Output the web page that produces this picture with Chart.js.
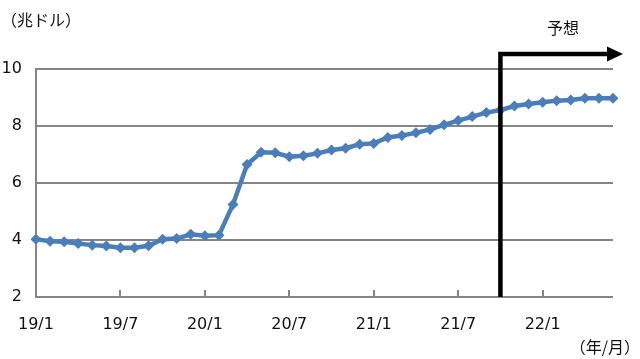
<!DOCTYPE html>
<html>
<head>
<meta charset="utf-8">
<script src="https://cdn.jsdelivr.net/npm/chart.js@4/dist/chart.umd.min.js"></script>
<style>
  html, body { margin: 0; padding: 0; background: #fff; }
  #wrap { width: 640px; height: 359px; position: relative; }
</style>
</head>
<body>
<div id="wrap"><canvas id="c" width="640" height="359"></canvas></div>
<script>
const months = [
  '19/1','19/2','19/3','19/4','19/5','19/6','19/7','19/8','19/9','19/10','19/11','19/12',
  '20/1','20/2','20/3','20/4','20/5','20/6','20/7','20/8','20/9','20/10','20/11','20/12',
  '21/1','21/2','21/3','21/4','21/5','21/6','21/7','21/8','21/9','21/10','21/11','21/12',
  '22/1','22/2','22/3','22/4','22/5','22/6'
];
const values = [
  4.03, 3.96, 3.94, 3.88, 3.82, 3.79, 3.73, 3.73, 3.80, 4.03, 4.05, 4.20,
  4.15, 4.17, 5.25, 6.65, 7.08, 7.06, 6.92, 6.96, 7.04, 7.16, 7.22, 7.36,
  7.39, 7.60, 7.67, 7.76, 7.88, 8.04, 8.19, 8.33, 8.47, 8.56, 8.70, 8.77,
  8.83, 8.89, 8.91, 8.97, 8.97, 8.97
];
const shownTickLabels = ['19/1','19/7','20/1','20/7','21/1','21/7','22/1'];
const forecastStart = '21/10';
const unitLabel = '（兆ドル）';
const xUnitLabel = '（年/月）';
const forecastLabel = '予想';

const GRID = '#858585';
const numFont = 'DejaVu Sans';
const jpFont = '"Noto Sans CJK JP"';

const overlay = {
  id: 'overlay',
  afterDraw(chart) {
    const ctx = chart.ctx;
    const xs = chart.scales.x, ys = chart.scales.y;
    const bottom = ys.getPixelForValue(ys.min);
    ctx.save();
    // upward tick marks on x axis
    ctx.strokeStyle = GRID;
    ctx.lineWidth = 2;
    months.forEach((m, i) => {
      if (shownTickLabels.includes(m) && i > 0) {
        const x = Math.round(xs.getPixelForValue(i));
        ctx.beginPath();
        ctx.moveTo(x, bottom);
        ctx.lineTo(x, bottom - 7);
        ctx.stroke();
      }
    });
    // forecast arrow
    const fx = xs.getPixelForValue(months.indexOf(forecastStart));
    const topY = ys.getPixelForValue(ys.max) - 15;
    const right = xs.getPixelForValue(months.length - 1);
    ctx.strokeStyle = '#000';
    ctx.fillStyle = '#000';
    ctx.lineWidth = 4.5;
    ctx.lineCap = 'butt';
    ctx.lineJoin = 'miter';
    ctx.beginPath();
    ctx.moveTo(fx, bottom);
    ctx.lineTo(fx, topY);
    ctx.lineTo(right - 5, topY);
    ctx.stroke();
    ctx.beginPath();
    ctx.moveTo(right - 6, topY - 7.5);
    ctx.lineTo(right + 10, topY);
    ctx.lineTo(right - 6, topY + 7.5);
    ctx.closePath();
    ctx.fill();
    // texts
    ctx.fillStyle = '#111';
    ctx.font = '16px ' + jpFont;
    ctx.textBaseline = 'middle';
    ctx.textAlign = 'center';
    ctx.fillText(forecastLabel, 563, 28);
    ctx.textAlign = 'left';
    ctx.fillText(unitLabel, 1, 20);
    ctx.textAlign = 'right';
    ctx.fillText(xUnitLabel, 640, 347);
    ctx.restore();
  }
};

new Chart(document.getElementById('c'), {
  type: 'line',
  data: {
    labels: months,
    datasets: [{
      data: values,
      borderColor: '#4a7ebb',
      backgroundColor: '#4a7ebb',
      borderWidth: 4.5,
      pointStyle: 'rectRot',
      pointRadius: 5.5,
      pointBorderWidth: 0,
      tension: 0
    }]
  },
  options: {
    responsive: false,
    animation: false,
    devicePixelRatio: 1,
    layout: { padding: { left: 0, right: 27, top: 69, bottom: 0 } },
    plugins: { legend: { display: false }, tooltip: { enabled: false } },
    scales: {
      x: {
        type: 'category',
        offset: false,
        grid: { display: false, drawTicks: false },
        border: { display: false },
        ticks: {
          autoSkip: false,
          maxRotation: 0,
          padding: 18,
          color: '#111',
          font: { family: numFont, size: 16 },
          callback: function(v, i) { return shownTickLabels.includes(months[i]) ? months[i] : ''; }
        },
        afterFit(scale) { scale.height = 62; }
      },
      y: {
        min: 2, max: 10,
        ticks: {
          stepSize: 2,
          padding: 14,
          color: '#111',
          font: { family: numFont, size: 16 }
        },
        grid: { color: GRID, lineWidth: 2, drawTicks: false },
        border: { display: true, color: GRID, width: 2 },
        afterFit(scale) { scale.width = 35; }
      }
    }
  },
  plugins: [overlay]
});
</script>
</body>
</html>
